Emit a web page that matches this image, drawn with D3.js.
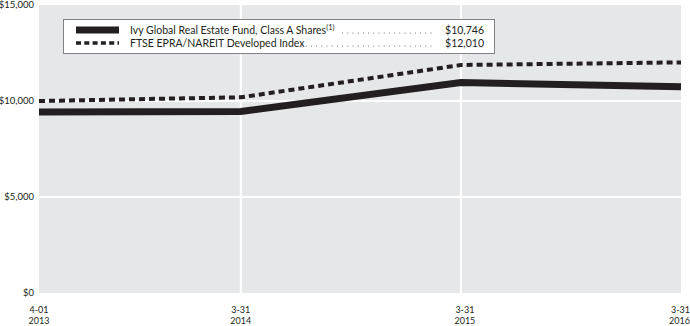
<!DOCTYPE html>
<html>
<head>
<meta charset="utf-8">
<script src="https://cdn.jsdelivr.net/npm/d3@7"></script>
<style>
  body { margin: 0; background: #fff; }
  text { font-family: Lato, "DejaVu Sans", sans-serif; fill: #231f20; }
</style>
</head>
<body>
<svg width="690" height="326"></svg>
<script>
// month index from 4-01-2013 (first year has 11 steps, the others 12)
var months = [0, 11, 23, 35];
var dateLabels = [["4-01", "2013"], ["3-31", "2014"], ["3-31", "2015"], ["3-31", "2016"]];
var fundValues = [9425, 9450, 10964, 10746];
var indexValues = [10000, 10193, 11875, 12010];
var yTicks = [0, 5000, 10000, 15000];
var seriesNames = ["Ivy Global Real Estate Fund, Class A Shares", "FTSE EPRA/NAREIT Developed Index"];
var endLabels = ["$10,746", "$12,010"];

var svg = d3.select("svg");
var margin = {top: 5, right: 9, bottom: 33, left: 39};
var width = 690 - margin.left - margin.right,
    height = 326 - margin.top - margin.bottom;

var x = d3.scaleLinear().domain([0, 35]).range([margin.left, margin.left + width]);
var y = d3.scaleLinear().domain([0, 15000]).range([margin.top + height, margin.top]);

// plot background
svg.append("rect")
    .attr("x", x(0)).attr("y", y(15000))
    .attr("width", x(35) - x(0)).attr("height", y(0) - y(15000))
    .attr("fill", "#e6e7e8");

// white grid lines
svg.selectAll(".hgrid")
    .data(yTicks.filter(function(d) { return d > 0 && d < 15000; }))
  .enter().append("line")
    .attr("x1", x(0)).attr("x2", x(35))
    .attr("y1", function(d) { return y(d); }).attr("y2", function(d) { return y(d); })
    .attr("stroke", "#fff").attr("stroke-width", 2);

svg.selectAll(".vgrid")
    .data(months.slice(1, 3))
  .enter().append("line")
    .attr("x1", function(d) { return x(d); }).attr("x2", function(d) { return x(d); })
    .attr("y1", y(15000)).attr("y2", y(0))
    .attr("stroke", "#fff").attr("stroke-width", 2);

// y labels
var fmt = d3.format("$,");
svg.selectAll(".ylab")
    .data(yTicks)
  .enter().append("text")
    .attr("x", 34)
    .attr("y", function(d) { return y(d); })
    .attr("dy", "0.35em")
    .attr("text-anchor", "end")
    .style("font-size", "9.5px")
    .text(function(d) { return fmt(d); });

// x labels, two lines each
months.forEach(function(m, i) {
  var last = i == months.length - 1;
  dateLabels[i].forEach(function(s, j) {
    svg.append("text")
        .attr("x", last ? 690 : x(m) + (i == 2 ? 4 : 0))
        .attr("y", 313 + j * 10.5)
        .attr("text-anchor", last ? "end" : "middle")
        .style("font-size", "9px")
        .text(s);
  });
});

// lines
var line = function(vals) {
  return d3.line()
    .x(function(d, i) { return x(months[i]); })
    .y(function(d) { return y(d); })(vals);
};

svg.append("path")
    .attr("d", line(indexValues))
    .attr("fill", "none")
    .attr("stroke", "#231f20")
    .attr("stroke-width", 4)
    .attr("stroke-dasharray", "6,4");

svg.append("path")
    .attr("d", line(fundValues))
    .attr("fill", "none")
    .attr("stroke", "#231f20")
    .attr("stroke-width", 7);

// legend
var lg = svg.append("g");
lg.append("rect")
    .attr("x", 63.5).attr("y", 19.5)
    .attr("width", 431).attr("height", 34)
    .attr("fill", "#fff")
    .attr("stroke", "#808285");

lg.append("line")
    .attr("x1", 76).attr("x2", 119).attr("y1", 30).attr("y2", 30)
    .attr("stroke", "#231f20").attr("stroke-width", 7);
lg.append("line")
    .attr("x1", 76).attr("x2", 119).attr("y1", 43).attr("y2", 43)
    .attr("stroke", "#231f20").attr("stroke-width", 3.5)
    .attr("stroke-dasharray", "5,3.3");

var t1 = lg.append("text").attr("x", 130).attr("y", 34).style("font-size", "10.5px");
t1.append("tspan").text(seriesNames[0]);
t1.append("tspan").attr("dy", -4).style("font-size", "7.5px").text("(1)");

lg.append("text").attr("x", 130).attr("y", 47).style("font-size", "10.5px").text(seriesNames[1]);

// dot leaders
lg.selectAll(".d1").data(d3.range(0, 18)).enter().append("circle")
    .attr("cx", function(d) { return 431 - d * 5.2; }).attr("cy", 33)
    .attr("r", 0.55).attr("fill", "#58595b");
lg.selectAll(".d2").data(d3.range(0, 29)).enter().append("circle")
    .attr("cx", function(d) { return 431 - d * 5.2; }).attr("cy", 46)
    .attr("r", 0.55).attr("fill", "#58595b");

lg.selectAll(".val").data(endLabels).enter().append("text")
    .attr("x", 484)
    .attr("y", function(d, i) { return 34 + i * 13; })
    .attr("text-anchor", "end")
    .style("font-size", "10.5px")
    .text(function(d) { return d; });
</script>
</body>
</html>
